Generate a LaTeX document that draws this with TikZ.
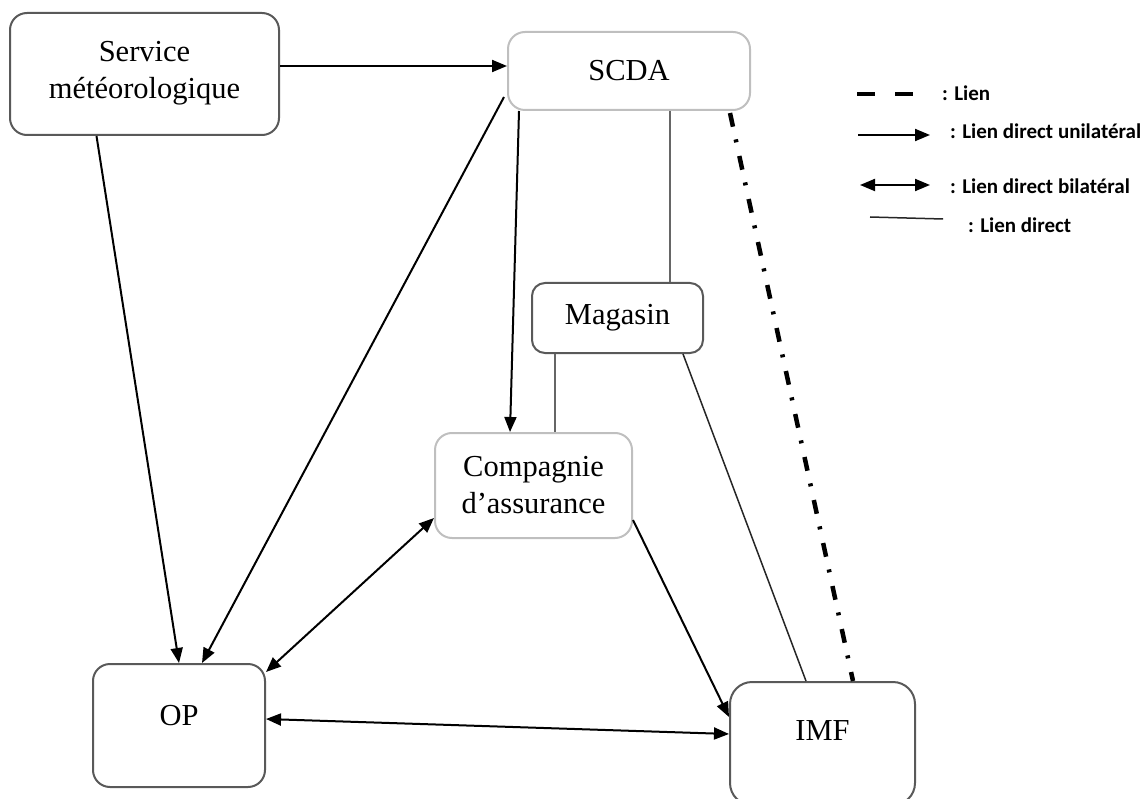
\documentclass[tikz,border=0pt]{standalone}
\usepackage{fontspec}
\setmainfont{Liberation Serif}
\newfontfamily\legendfont{Carlito}[BoldFont={Carlito Bold}]
\usetikzlibrary{arrows.meta,positioning}

\colorlet{box edge}{black!65}
\colorlet{soft edge}{black!25}
\tikzset{
  actor/.style={draw=box edge, line width=2pt, rounded corners=17pt, align=center,
    inner sep=0pt, font=\fontsize{30.5}{37}\selectfont},
  soft actor/.style={actor, draw=soft edge},
  legend text/.style={anchor=west, inner sep=0pt, font=\legendfont\bfseries\fontsize{21}{24}\selectfont}
  }
\tikzstyle{uni} = [draw, line width=2pt, -{Triangle[length=15pt,width=12pt]}]
\tikzstyle{bi} = [draw, line width=2pt, {Triangle[length=15pt,width=12pt]}-{Triangle[length=15pt,width=12pt]}]
\tikzstyle{direct} = [draw, line width=2.4pt, black!60, -]
\tikzstyle{thin direct} = [draw, line width=1.5pt, black!85, -]
\tikzstyle{lien} = [draw, line width=4.5pt, dash pattern=on 14pt off 13pt on 3pt off 14pt]

\begin{document}
\begin{tikzpicture}[x=1pt, y=-1pt]

    % the page
    \path[use as bounding box, clip] (0,0) rectangle (1145,799);

    % The actors
    \node[actor, minimum width=269pt, minimum height=122pt, text depth=8pt] (svc) at (144.5,74) {Service\\météorologique};
    \node[soft actor, minimum width=242pt, minimum height=78pt] (scda) at (629,71) {SCDA};
    \node[actor, rounded corners=13pt, minimum width=171pt, minimum height=70pt] (mag) at (617.5,318) {Magasin};
    \node[soft actor, minimum width=197pt, minimum height=105pt] (comp) at (533.5,485.5) {Compagnie\\d’assurance};
    \node[actor, minimum width=172pt, minimum height=123pt, text depth=20pt] (op) at (179,725.5) {OP};
    \node[actor, rounded corners=22pt, minimum width=185pt, minimum height=123pt, text depth=26pt] (imf) at (822.5,743.5) {IMF};

    % The connections between them
    \path[uni] ([yshift=8pt]svc.east) -- ([yshift=5pt]scda.west);
    \path[uni] ([xshift=-48pt]svc.south) -- (op.north);
    \path[uni] ([xshift=-3pt,yshift=-26pt]scda.west) -- ([xshift=23pt]op.north);
    \path[uni] ([xshift=-110pt]scda.south) -- ([xshift=-23.5pt]comp.north);
    \path[uni] ([yshift=-34.5pt]comp.east) -- ([yshift=26.5pt]imf.west);
    \path[bi] ([yshift=-32.5pt]comp.west) -- ([yshift=-9pt]op.north east);
    \path[bi] ([yshift=6.5pt]op.east) -- ([yshift=9.5pt]imf.west);
    \path[direct] ([xshift=41pt]scda.south) -- ([xshift=52.5pt]mag.north);
    \path[direct] ([xshift=-62.5pt]mag.south) -- ([xshift=21.5pt]comp.north);
    \path[thin direct] ([xshift=65.5pt]mag.south) -- ([xshift=-16.5pt]imf.north);
    \path[lien] ([xshift=101pt,yshift=-2pt]scda.south) -- ([xshift=30.5pt]imf.north);

    % the legend
    \coordinate (la) at (857,94);
    \coordinate (lb) at (913,94);
    \coordinate (ua) at (858,135);
    \coordinate (ub) at (930,135);
    \coordinate (ba) at (860,185);
    \coordinate (bb) at (930,185);
    \coordinate (da) at (870,217);
    \coordinate (db) at (943,219);
    \path[draw, line width=4.5pt, dash pattern=on 18pt off 20pt] (la) -- (lb);
    \path[uni] (ua) -- (ub);
    \path[bi] (ba) -- (bb);
    \path[thin direct] (da) -- (db);
    \node[legend text] (tl) at (942,93) {: Lien};
    \node[legend text] (tu) at (950,131) {: Lien direct unilatéral};
    \node[legend text] (tb) at (950,186) {: Lien direct bilatéral};
    \node[legend text] (td) at (968,225) {: Lien direct};
\end{tikzpicture}
\end{document}
